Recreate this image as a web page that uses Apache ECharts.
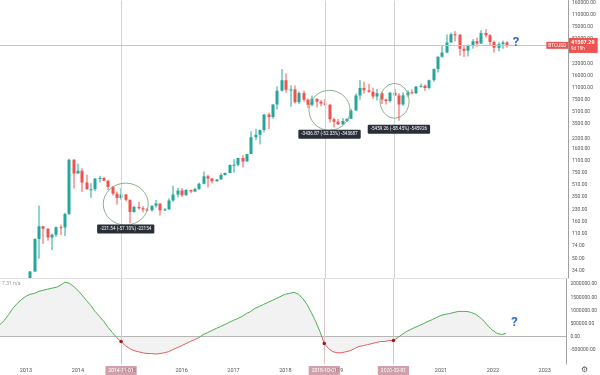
<!DOCTYPE html>
<html><head><meta charset="utf-8">
<script src="https://cdn.jsdelivr.net/npm/echarts@6/dist/echarts.min.js"></script>
<style>html,body{margin:0;padding:0;background:#fff}#c{width:600px;height:375px}</style>
</head><body><div id="c"></div>
<script>
// ---- categories (monthly) ----
const firstYear = 2012, firstMonth = 7, monthCount = 132;
const months = [];
for (let i = 0; i < monthCount; i++) {
  const y = firstYear + Math.floor((firstMonth - 1 + i) / 12);
  const m = (firstMonth - 1 + i) % 12 + 1;
  months.push(y + '-' + String(m).padStart(2, '0'));
}
// ---- BTCUSD monthly candles [open, high, low, close], from 2013-01 ----
const candleStartIndex = 6; // 2013-01
const ohlc2013 = [[13.3,20.4,12.9,20.4],[20.4,33.8,19.1,33.4],[33.4,95,33,93],[93,266,50,139],[139,140,80,128.8],[128.8,130,88,97.5],[97.5,110,65.5,106],[106,138,99,135],[135,146,105,133],[133,213,102,204],[204,1163,198,1130],[1130,1150,455,732]];
const ohlc2014 = [[732,1000,730,800],[800,860,410,550],[550,705,440,445],[445,540,340,447],[447,630,420,627],[627,680,550,635],[635,660,575,584],[584,600,435,477],[477,495,365,386],[386,415,275,338],[338,460,320,378],[378,385,305,320]];
const ohlc2015 = [[320,320,152,217],[217,265,212,254],[254,300,235,244],[244,262,215,236],[236,247,226,230],[230,268,219,264],[264,318,250,284],[284,284,195,230],[230,247,225,236],[236,336,235,313],[313,500,300,377],[377,467,345,430]];
const ohlc2016 = [[430,462,350,368],[368,448,365,436],[436,440,394,416],[416,468,405,448],[448,550,436,531],[531,780,519,673],[673,704,470,624],[624,630,535,573],[573,612,566,608],[608,740,605,700],[700,752,684,745],[745,975,740,960]];
const ohlc2017 = [[960,1150,750,965],[965,1200,920,1190],[1190,1300,890,1071],[1071,1350,1070,1348],[1348,2760,1345,2300],[2300,2980,2100,2480],[2480,2920,1830,2875],[2875,4750,2670,4700],[4700,4980,2970,4340],[4340,6470,4110,6450],[6450,11400,5520,9940],[9940,19660,9750,13850]];
const ohlc2018 = [[13850,17200,9300,10220],[10220,11780,6000,10320],[10320,11700,6600,6930],[6930,9750,6500,9240],[9240,9990,7040,7490],[7490,7760,5750,6390],[6390,8490,6070,7730],[7730,7750,5880,7030],[7030,7400,6100,6620],[6620,7680,6200,6370],[6370,6590,3650,4040],[4040,4240,3120,3740]];
const ohlc2019 = [[3740,4070,3360,3440],[3440,4200,3380,3820],[3820,4140,3710,4105],[4105,5620,4080,5320],[5320,9100,5320,8570],[8570,13880,7460,10820],[10820,13180,9070,10080],[10080,12340,9320,9600],[9600,10950,7720,8300],[8300,10540,7300,9150],[9150,9510,6520,7560],[7560,7750,6430,7200]];
const ohlc2020 = [[7200,9580,6870,9350],[9350,10500,8450,8540],[8540,9190,3850,6420],[6420,9460,6150,8630],[8630,10070,8100,9450],[9450,10400,8900,9140],[9140,11440,8980,11340],[11340,12480,10960,11650],[11650,12080,9880,10780],[10780,14100,10400,13800],[13800,19900,13200,19700],[19700,29300,17600,28990]];
const ohlc2021 = [[28990,41990,28130,33110],[33110,58350,32300,45200],[45200,61800,45000,58800],[58800,64900,47000,57700],[57700,59500,30000,37300],[37300,41300,28800,35040],[35040,42400,29300,41460],[41460,50500,37300,47100],[47100,52900,39600,43800],[43800,67000,43300,61300],[61300,69000,53300,57000],[57000,59100,42000,46200]];
const ohlc2022 = [[46200,48000,32900,38500],[38500,45800,34300,43200],[43200,48200,37200,45500],[45500,47400,38600,41507.29]];
const lastPrice = 41507.29;
// ---- indicator (monthly, from 2012-07) ----
const indicatorStartIndex = 0;
const indicatorValues = [
  460000,615000,846000,1080000,1270000,1420000,
  1540000,1620000,1650000,1730000,1770000,1810000,1850000,1880000,1960000,2080000,2040000,1920000,
  1770000,1580000,1380000,1190000,960000,770000,580000,350000,150000,-40000,-190000,-350000,
  -460000,-540000,-580000,-620000,-650000,-650000,-670000,-650000,-620000,-580000,-500000,-420000,
  -350000,-270000,-190000,-120000,-40000,80000,150000,230000,310000,380000,460000,540000,
  620000,690000,770000,880000,960000,1080000,1150000,1230000,1310000,1380000,1460000,1540000,
  1620000,1650000,1690000,1620000,1460000,1230000,920000,580000,190000,-270000,-460000,-580000,
  -620000,-620000,-580000,-540000,-460000,-380000,-350000,-310000,-270000,-230000,-190000,-190000,
  -150000,-150000,-40000,80000,190000,270000,350000,420000,500000,580000,650000,730000,
  810000,850000,880000,920000,960000,960000,960000,920000,850000,730000,580000,380000,
  230000,120000,80000,120000
];
// ---- tick labels ----
const priceTicks = [34,50,74,110,160,230,350,510,750,1100,1600,2200,3500,5100,7500,11000,16000,23000,51000,75000,110000,160000];
const indicatorTicks = [-500000,0,500000,1000000,1500000,2000000];
const priceMin = 27.2, priceMax = 170000;
const indMin = -1050000, indMax = 2200000;
// ---- annotations ----
const markerMonths = ['2014-11','2018-10','2020-02'];
const markerLabels = ['2014-11-01','2018-10-01','2020-02-01'];
const circleMonths = ['2014-12','2018-11','2020-02'];
const circlePrices = [279, 5357, 7224];
const circleSizes = [[45,42],[41,40],[29,35]];
const measureMonths = ['2014-12','2018-11','2020-03'];
const measurePrices = [127, 2518, 2945];
const measureTexts = ['-221.54 (-57.10%) -22154','-3436.87 (-52.33%) -343687','-5459.26 (-58.45%) -545926'];
const questionMonth = '2022-06';
const questionPrice = 45400, questionIndicator = 520000;

const allOhlc = [].concat(ohlc2013,ohlc2014,ohlc2015,ohlc2016,ohlc2017,ohlc2018,ohlc2019,ohlc2020,ohlc2021,ohlc2022);
const L = Math.log;
// [category, open, close, low, high] in log space
const candleData = allOhlc.map((r, i) => [months[candleStartIndex + i], L(r[0]), L(r[3]), L(r[2]), L(r[1])]);
const indData = indicatorValues.map((v, i) => [months[indicatorStartIndex + i], v]);
const indAt = m => indicatorValues[months.indexOf(m) - indicatorStartIndex];

const UP = '#26a69a', DOWN = '#ef5350';
function renderCandle(params, api) {
  const xi = api.value(0);
  const o = api.value(1), c = api.value(2), lo = api.value(3), hi = api.value(4);
  const pO = api.coord([xi, o]), pC = api.coord([xi, c]);
  const pL = api.coord([xi, lo]), pH = api.coord([xi, hi]);
  const color = c >= o ? UP : DOWN;
  const x = Math.round(pO[0]);
  const w = 3;
  const top = Math.min(pO[1], pC[1]);
  const h = Math.max(1, Math.abs(pO[1] - pC[1]));
  return {
    type: 'group',
    children: [
      { type: 'line', shape: { x1: x, y1: pH[1], x2: x, y2: pL[1] }, style: { stroke: color, lineWidth: 1 } },
      { type: 'rect', shape: { x: x - w / 2, y: top, width: w, height: h }, style: { fill: color } }
    ]
  };
}

const small = 5;
const chart = echarts.init(document.getElementById('c'));
chart.setOption({
  animation: false,
  textStyle: { fontFamily: 'Roboto, sans-serif' },
  title: [
    { text: '7.31 n/a', left: 2, top: 281, padding: 0, textStyle: { fontSize: 5, color: '#9a9a9a', fontWeight: 'normal' } },
    { text: '⚙', left: 581, top: 366, padding: 0, textStyle: { fontSize: 8, color: '#555', fontWeight: 'normal', fontFamily: 'DejaVu Sans' } }
  ],
  grid: [
    { left: -1.5, right: 32, top: 0, height: 278 },
    { left: -1.5, right: 32, top: 279, height: 85 }
  ],
  visualMap: {
    type: 'piecewise', show: false, seriesIndex: 1, dimension: 1,
    pieces: [{ gt: 0, lte: 100000000, color: '#4caf50' }, { gt: -100000000, lte: 0, color: '#e35d5d' }]
  },
  xAxis: [
    { type: 'category', gridIndex: 0, data: months, boundaryGap: false,
      axisLine: { lineStyle: { color: '#e3e3e3' } }, axisTick: { show: false },
      axisLabel: { show: false }, splitLine: { show: false } },
    { type: 'category', gridIndex: 1, data: months, boundaryGap: false,
      axisLine: { lineStyle: { color: '#b3b3b3' } }, axisTick: { show: false },
      axisLabel: { interval: (i, v) => String(v).endsWith('-01'), formatter: v => v.slice(0, 4),
        fontSize: 5.5, color: '#555', margin: 4 },
      splitLine: { show: false } }
  ],
  yAxis: [
    { type: 'value', gridIndex: 0, position: 'right', min: L(priceMin), max: L(priceMax),
      axisLine: { show: true, lineStyle: { color: '#a0a0a0' } }, axisTick: { show: false }, splitLine: { show: false },
      axisLabel: { customValues: priceTicks.map(L), fontSize: small, color: '#555', margin: 4,
        formatter: v => { const t = priceTicks.find(t => Math.abs(L(t) - v) < 1e-6); return (t !== undefined ? t : Math.exp(v)).toFixed(2); } } },
    { type: 'value', gridIndex: 1, position: 'right', min: indMin, max: indMax,
      axisLine: { show: true, lineStyle: { color: '#a0a0a0' } }, axisTick: { show: false }, splitLine: { show: false },
      axisLabel: { customValues: indicatorTicks, fontSize: small, color: '#555', margin: 4, formatter: v => Number(v).toFixed(2) } }
  ],
  series: [
    {
      type: 'custom', xAxisIndex: 0, yAxisIndex: 0, data: candleData, clip: true,
      encode: { x: 0, y: [1, 2, 3, 4] }, renderItem: renderCandle,
      markLine: {
        silent: true, symbol: ['none', 'none'], animation: false,
        data: markerMonths.map(m => ({ xAxis: m, lineStyle: { color: '#d3d3d3', type: 'solid', width: 1 }, label: { show: false } }))
          .concat([{ yAxis: L(lastPrice), lineStyle: { color: '#f3b0b0', type: 'solid', width: 1 },
            label: { show: true, position: 'end', distance: 1, formatter: '{a|' + lastPrice.toFixed(2) + '}\n{b|9d 19h}',
              backgroundColor: '#ef5350', padding: [1, 3, 1, 2],
              rich: { a: { color: '#fff', fontSize: 5.5, fontWeight: 'bold', lineHeight: 7 }, b: { color: '#fff', fontSize: 4.5, lineHeight: 6 } } } }])
      },
      markPoint: {
        silent: true, animation: false,
        data: circleMonths.map((m, i) => ({ coord: [m, L(circlePrices[i])], symbol: 'circle', symbolSize: circleSizes[i],
            itemStyle: { color: 'rgba(0,0,0,0)', borderColor: '#7fa883', borderWidth: 0.9 }, label: { show: false } }))
          .concat(measureMonths.map((m, i) => ({ coord: [m, L(measurePrices[i])], symbol: 'circle', symbolSize: 0,
            label: { show: true, position: 'inside', formatter: measureTexts[i], color: '#fff', fontSize: 4.6,
              backgroundColor: '#2a2e39', padding: [2, 3], borderRadius: 1 } })))
          .concat([
            { coord: ['2023-04', L(lastPrice)], symbol: 'circle', symbolSize: 0,
              label: { show: true, position: 'inside', offset: [-2, 0], formatter: 'BTCUSD', color: '#fff', fontSize: 4.8,
                backgroundColor: '#ef5350', padding: [1, 2] } },
            { coord: [questionMonth, L(questionPrice)], symbol: 'circle', symbolSize: 0,
              label: { show: true, position: 'inside', formatter: '?', color: '#2f6bd0', fontSize: 13, fontWeight: 'bold' } }
          ])
      }
    },
    {
      type: 'line', xAxisIndex: 1, yAxisIndex: 1, data: indData, showSymbol: false, smooth: false,
      lineStyle: { width: 1 },
      areaStyle: { color: 'rgba(200,200,200,0.35)' },
      markLine: {
        silent: true, symbol: ['none', 'none'], animation: false,
        data: markerMonths.map((m, i) => ({ xAxis: m, lineStyle: { color: '#d3c6c8', type: 'solid', width: 1 },
          label: { show: true, position: 'start', distance: 2, formatter: markerLabels[i], color: '#fff', fontSize: 5,
            backgroundColor: 'rgba(190,125,140,0.72)', padding: [2, 3] } }))
      },
      markPoint: {
        silent: true, animation: false,
        data: markerMonths.map(m => ({ coord: [m, indAt(m)], symbol: 'circle', symbolSize: 3.5,
            itemStyle: { color: '#9b1c1c' }, label: { show: false } }))
          .concat([{ coord: [questionMonth, questionIndicator], symbol: 'circle', symbolSize: 0,
            label: { show: true, position: 'inside', formatter: '?', color: '#2f6bd0', fontSize: 13, fontWeight: 'bold' } }])
      }
    }
  ]
});
</script></body></html>
